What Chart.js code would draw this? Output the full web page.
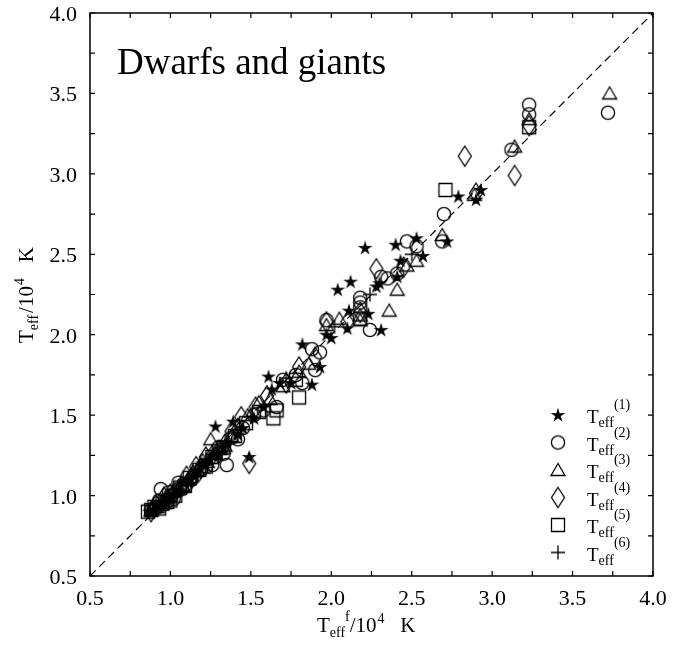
<!DOCTYPE html>
<html>
<head>
<meta charset="utf-8">
<script src="https://cdn.jsdelivr.net/npm/chart.js@4"></script>
<style>
  html, body { margin: 0; padding: 0; background: #fff; }
  canvas { display: block; }
</style>
</head>
<body>
<canvas id="chart" width="690" height="646"></canvas>
<script>
// T_eff^f (x) against each estimate T_eff^(k) (y), units of 10^4 K
const xs1 = [0.87, 0.90, 0.93, 0.95, 0.97, 1.00, 1.02, 1.04, 1.08, 1.12, 1.15, 1.17, 1.20, 1.22, 1.24, 1.26, 1.28, 1.30, 1.33, 1.35, 1.39, 1.42, 1.45, 1.49, 1.52, 1.58, 1.61, 1.63, 1.68, 1.75, 1.82, 1.88, 1.93, 1.97, 2.00, 2.04, 2.10, 2.11, 2.12, 2.21, 2.23, 2.28, 2.30, 2.31, 2.40, 2.41, 2.43, 2.53, 2.57, 2.72, 2.79, 2.90, 2.93];
const ys1 = [0.90, 0.91, 0.93, 0.96, 0.96, 0.98, 1.01, 1.02, 1.08, 1.10, 1.12, 1.15, 1.20, 1.19, 1.22, 1.25, 1.43, 1.26, 1.30, 1.33, 1.46, 1.38, 1.42, 1.24, 1.48, 1.55, 1.74, 1.66, 1.70, 1.70, 1.94, 1.69, 1.80, 2.00, 1.98, 2.28, 2.04, 2.15, 2.33, 2.54, 2.13, 2.30, 2.32, 2.03, 2.56, 2.36, 2.46, 2.60, 2.49, 2.58, 2.86, 2.84, 2.90];

const xs2 = [0.88, 0.90, 0.93, 0.94, 0.97, 0.99, 1.00, 1.02, 1.05, 1.07, 1.10, 1.13, 1.15, 1.19, 1.22, 1.26, 1.28, 1.30, 1.33, 1.35, 1.38, 1.42, 1.45, 1.52, 1.58, 1.66, 1.70, 1.78, 1.82, 1.88, 1.90, 1.93, 1.97, 2.18, 2.18, 2.18, 2.24, 2.31, 2.35, 2.41, 2.47, 2.53, 2.69, 2.70, 3.12, 3.23, 3.23, 3.72];
const ys2 = [0.91, 0.92, 0.97, 1.04, 0.95, 1.02, 1.00, 0.98, 1.08, 1.04, 1.07, 1.10, 1.12, 1.16, 1.18, 1.19, 1.24, 1.30, 1.26, 1.19, 1.36, 1.35, 1.42, 1.50, 1.53, 1.55, 1.72, 1.75, 1.70, 1.91, 1.78, 1.89, 2.09, 2.23, 2.20, 2.17, 2.03, 2.36, 2.35, 2.38, 2.58, 2.55, 2.58, 2.75, 3.15, 3.43, 3.37, 3.38];

const xs3 = [0.88, 0.92, 0.95, 0.99, 1.02, 1.05, 1.08, 1.11, 1.14, 1.17, 1.20, 1.23, 1.25, 1.28, 1.31, 1.34, 1.38, 1.42, 1.48, 1.55, 1.62, 1.70, 1.80, 1.86, 1.97, 2.05, 2.18, 2.18, 2.36, 2.41, 2.47, 2.53, 2.69, 2.89, 3.14, 3.23, 3.73];
const ys3 = [0.91, 0.93, 0.97, 0.99, 1.03, 1.05, 1.06, 1.10, 1.15, 1.16, 1.22, 1.21, 1.35, 1.26, 1.29, 1.31, 1.37, 1.44, 1.50, 1.58, 1.60, 1.68, 1.77, 1.82, 2.06, 2.10, 2.12, 2.09, 2.15, 2.28, 2.43, 2.46, 2.62, 2.87, 3.17, 3.34, 3.50];

const xs4 = [0.88, 0.91, 0.96, 1.00, 1.03, 1.07, 1.10, 1.13, 1.16, 1.19, 1.22, 1.26, 1.30, 1.34, 1.38, 1.44, 1.49, 1.53, 1.60, 1.72, 1.80, 1.90, 1.97, 2.10, 2.18, 2.28, 2.45, 2.83, 2.90, 3.14, 3.23];
const ys4 = [0.90, 0.94, 0.99, 1.01, 1.02, 1.06, 1.12, 1.11, 1.18, 1.17, 1.24, 1.25, 1.28, 1.32, 1.40, 1.49, 1.20, 1.55, 1.62, 1.70, 1.80, 1.86, 2.08, 2.08, 2.14, 2.41, 2.42, 3.11, 2.88, 2.99, 3.30];

const xs5 = [0.86, 0.88, 0.90, 0.93, 0.95, 0.98, 1.00, 1.03, 1.06, 1.09, 1.12, 1.18, 1.22, 1.26, 1.33, 1.40, 1.47, 1.55, 1.64, 1.66, 1.78, 1.80, 2.18, 2.71, 3.23];
const ys5 = [0.90, 0.91, 0.93, 0.92, 0.95, 0.96, 0.97, 1.00, 1.05, 1.06, 1.11, 1.16, 1.18, 1.24, 1.30, 1.37, 1.45, 1.52, 1.48, 1.53, 1.72, 1.61, 2.10, 2.90, 3.29];

const xs6 = [0.92, 0.98, 1.06, 1.12, 1.18, 1.25, 1.32, 1.40, 1.50, 1.72, 2.02, 2.24, 2.50];
const ys6 = [0.92, 0.97, 1.04, 1.11, 1.17, 1.23, 1.30, 1.39, 1.49, 1.73, 2.05, 2.25, 2.50];

const diagX = [0.5, 4.0];
const diagY = [0.5, 4.0];

const tickValues = [0.5, 1.0, 1.5, 2.0, 2.5, 3.0, 3.5, 4.0];
const seriesNumbers = ["(1)", "(2)", "(3)", "(4)", "(5)", "(6)"];
const titleText = "Dwarfs and giants";

const serif = "'Liberation Serif', 'Times New Roman', serif";

function makeMarker(kind) {
    const c = document.createElement("canvas");
    const w = 18;
    const h = kind === "diamond" ? 24 : 18;
    c.width = w;
    c.height = h;
    const g = c.getContext("2d");
    const cx = w / 2, cy = h / 2;
    g.strokeStyle = "#000";
    g.fillStyle = "#000";
    g.lineWidth = 1.3;
    g.beginPath();
    if (kind === "star") {
        for (let i = 0; i < 10; i++) {
            const r = i % 2 === 0 ? 7.8 : 2.8;
            const a = -Math.PI / 2 + i * Math.PI / 5;
            const px = cx + r * Math.cos(a), py = cy + 0.5 + r * Math.sin(a);
            if (i === 0) g.moveTo(px, py); else g.lineTo(px, py);
        }
        g.closePath();
        g.fill();
        return c;
    }
    if (kind === "circle") {
        g.arc(cx, cy, 6.6, 0, Math.PI * 2);
    } else if (kind === "triangle") {
        g.moveTo(cx, cy - 6.5);
        g.lineTo(cx + 7, cy + 5.5);
        g.lineTo(cx - 7, cy + 5.5);
        g.closePath();
    } else if (kind === "diamond") {
        g.moveTo(cx, cy - 10);
        g.lineTo(cx + 6.5, cy);
        g.lineTo(cx, cy + 10);
        g.lineTo(cx - 6.5, cy);
        g.closePath();
    } else if (kind === "square") {
        g.rect(cx - 6.5, cy - 6.5, 13, 13);
    } else if (kind === "plus") {
        g.moveTo(cx - 7, cy);
        g.lineTo(cx + 7, cy);
        g.moveTo(cx, cy - 7);
        g.lineTo(cx, cy + 7);
    }
    g.stroke();
    return c;
}

const markers = ["star", "circle", "triangle", "diamond", "square", "plus"].map(makeMarker);

function pts(xs, ys) {
    return xs.map((x, i) => ({ x: x, y: ys[i] }));
}

const allSeries = [[xs1, ys1], [xs2, ys2], [xs3, ys3], [xs4, ys4], [xs5, ys5], [xs6, ys6]];

const datasets = [{
    type: "line",
    data: pts(diagX, diagY),
    borderColor: "#000",
    borderWidth: 1.2,
    borderDash: [8, 5],
    pointRadius: 0,
    fill: false
}];

allSeries.forEach((s, i) => {
    datasets.push({
        type: "scatter",
        data: pts(s[0], s[1]),
        pointStyle: markers[i],
        pointRadius: 7,
        borderColor: "#000",
        backgroundColor: "rgba(0,0,0,0)"
    });
});

// "T" with subscript eff and an optional superscript, returns end x
function drawTeff(ctx, x, y, big, small, sup, subDrop, supRaise) {
    ctx.font = big + "px " + serif;
    ctx.fillText("T", x, y);
    x += ctx.measureText("T").width;
    ctx.font = small + "px " + serif;
    ctx.fillText("eff", x, y + subDrop);
    x += ctx.measureText("eff").width;
    if (sup) {
        ctx.fillText(sup, x, y - supRaise);
        x += ctx.measureText(sup).width;
    }
    return x;
}

const decorations = {
    id: "decorations",
    afterDraw(chart) {
        const ctx = chart.ctx;
        const a = chart.chartArea;
        const xs = chart.scales.x, ys = chart.scales.y;
        ctx.save();
        ctx.strokeStyle = "#000";
        ctx.fillStyle = "#000";

        // frame
        ctx.lineWidth = 1.5;
        ctx.strokeRect(a.left, a.top, a.right - a.left, a.bottom - a.top);

        // inward ticks on all sides, major and minor
        ctx.lineWidth = 1.2;
        const tl = 5;
        const minor = tickValues.slice(1).map((v, i) => (v + tickValues[i]) / 2);
        tickValues.concat(minor).forEach(v => {
            const px = xs.getPixelForValue(v);
            const py = ys.getPixelForValue(v);
            ctx.beginPath();
            ctx.moveTo(px, a.bottom); ctx.lineTo(px, a.bottom - tl);
            ctx.moveTo(px, a.top); ctx.lineTo(px, a.top + tl);
            ctx.moveTo(a.left, py); ctx.lineTo(a.left + tl, py);
            ctx.moveTo(a.right, py); ctx.lineTo(a.right - tl, py);
            ctx.stroke();
        });

        // tick labels
        ctx.font = "22px " + serif;
        ctx.textBaseline = "alphabetic";
        ctx.textAlign = "center";
        tickValues.forEach(v => {
            ctx.fillText(v.toFixed(1), xs.getPixelForValue(v), a.bottom + 29);
        });
        ctx.textAlign = "right";
        tickValues.forEach(v => {
            ctx.fillText(v.toFixed(1), a.left - 13, ys.getPixelForValue(v) + 8);
        });

        // title inside the plot
        ctx.textAlign = "left";
        ctx.font = "37px " + serif;
        ctx.fillText(titleText, 117, 74);

        // legend
        markers.forEach((m, i) => {
            const cy = 415 + 27.5 * i;
            ctx.drawImage(m, 558 - m.width / 2, cy - m.height / 2);
            drawTeff(ctx, 587, cy + 8, 19, 14, seriesNumbers[i], 4, 14);
        });

        // x axis title
        let xt = 317;
        const by = 632;
        xt = drawTeff(ctx, xt, by, 21, 14, "f", 5, 11);
        ctx.font = "21px " + serif;
        ctx.fillText("/10", xt, by);
        xt += ctx.measureText("/10").width;
        ctx.font = "14px " + serif;
        ctx.fillText("4", xt + 1, by - 9);
        xt += ctx.measureText("4").width + 1;
        ctx.font = "21px " + serif;
        ctx.fillText("   K", xt, by);

        // y axis title (rotated)
        ctx.translate(33, 343);
        ctx.rotate(-Math.PI / 2);
        let yt = drawTeff(ctx, 0, 0, 21, 14, null, 5, 0);
        ctx.font = "21px " + serif;
        ctx.fillText("/10", yt + 2, 0);
        yt += ctx.measureText("/10").width + 2;
        ctx.font = "14px " + serif;
        ctx.fillText("4", yt + 1, -9);
        yt += ctx.measureText("4").width + 1;
        ctx.font = "21px " + serif;
        ctx.fillText("   K", yt, 0);

        ctx.restore();
    }
};

Chart.defaults.font.family = serif;
Chart.defaults.color = "#000";

new Chart(document.getElementById("chart"), {
    data: { datasets: datasets },
    options: {
        responsive: false,
        animation: false,
        devicePixelRatio: 1,
        layout: { padding: { left: 90, top: 13, right: 37, bottom: 70 } },
        plugins: { legend: { display: false }, tooltip: { enabled: false } },
        scales: {
            x: {
                type: "linear",
                min: 0.5, max: 4.0,
                grid: { display: false },
                border: { display: false },
                ticks: { display: false, stepSize: 0.5 },
                afterFit: s => { s.height = 0; }
            },
            y: {
                type: "linear",
                min: 0.5, max: 4.0,
                grid: { display: false },
                border: { display: false },
                ticks: { display: false, stepSize: 0.5 },
                afterFit: s => { s.width = 0; }
            }
        }
    },
    plugins: [decorations]
});
</script>
</body>
</html>
